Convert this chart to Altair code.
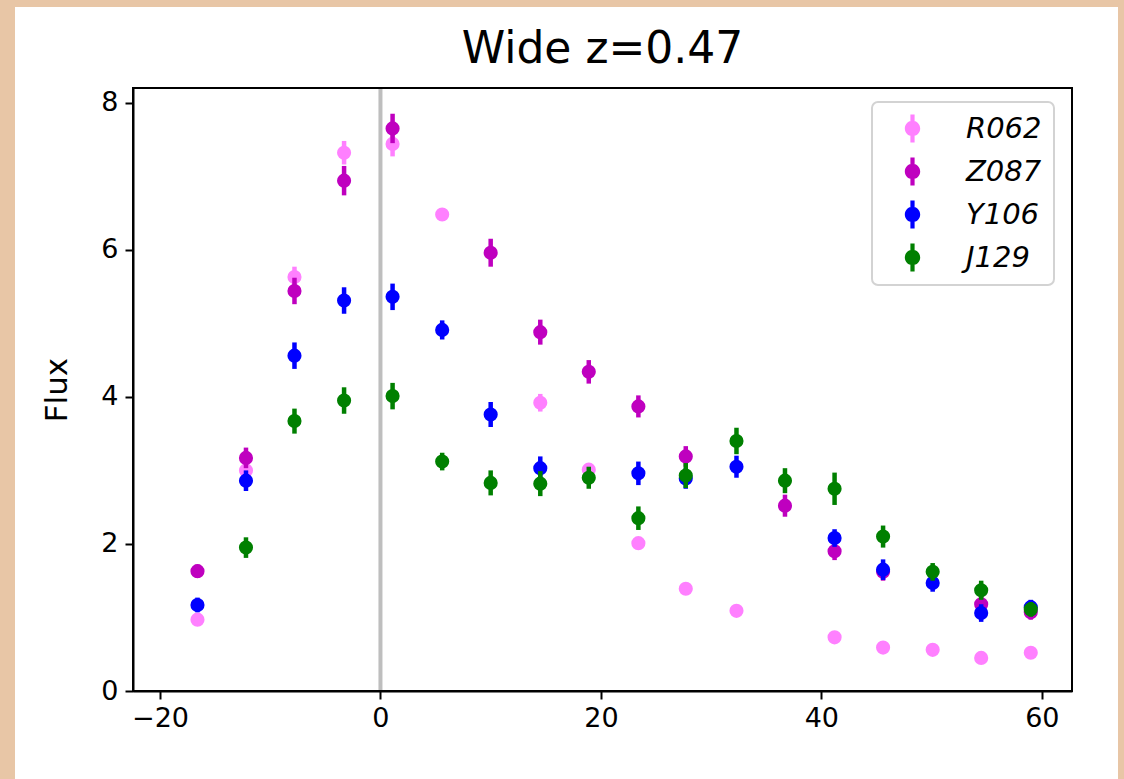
import altair as alt
import pandas as pd

# ---- data ----
phase = [-16.6, -12.2, -7.8, -3.3, 1.1, 5.6, 10.0, 14.5, 18.9, 23.4,
         27.7, 32.3, 36.7, 41.2, 45.6, 50.1, 54.5, 59.0]
bands = ["R062", "Z087", "Y106", "J129"]
band_colors = ["#FF80FF", "#BF00BF", "#0000FF", "#008000"]

flux_R062 = [0.97, 3.00, 5.63, 7.32, 7.44, 6.48, None, 3.92, 3.01, 2.01,
             1.39, 1.09, None, 0.73, 0.59, 0.56, 0.45, 0.52]
err_R062 = [0.06, 0.10, 0.14, 0.16, 0.17, 0.08, None, 0.12, 0.08, 0.06,
            0.05, 0.04, None, 0.04, 0.04, 0.04, 0.04, 0.04]

flux_Z087 = [1.63, 3.17, 5.44, 6.94, 7.65, None, 5.96, 4.88, 4.34, 3.87,
             3.19, None, 2.52, 1.90, 1.62, None, 1.18, 1.07]
err_Z087 = [0.09, 0.14, 0.18, 0.20, 0.20, None, 0.19, 0.17, 0.16, 0.15,
            0.14, None, 0.15, 0.12, 0.12, None, 0.12, 0.10]

flux_Y106 = [1.17, 2.86, 4.56, 5.31, 5.36, 4.91, 3.76, 3.03, None, 2.96,
             2.89, 3.05, None, 2.08, 1.65, 1.47, 1.06, 1.14]
err_Y106 = [0.10, 0.14, 0.18, 0.18, 0.18, 0.13, 0.17, 0.16, None, 0.16,
            0.14, 0.15, None, 0.12, 0.14, 0.12, 0.12, 0.10]

flux_J129 = [None, 1.95, 3.67, 3.95, 4.01, 3.12, 2.83, 2.82, 2.90, 2.35,
             2.93, 3.40, 2.86, 2.75, 2.10, 1.62, 1.37, 1.11]
err_J129 = [None, 0.14, 0.17, 0.18, 0.18, 0.12, 0.17, 0.17, 0.15, 0.16,
            0.17, 0.18, 0.17, 0.22, 0.15, 0.12, 0.13, 0.10]

x_ticks = [-20, 0, 20, 40, 60]
y_ticks = [0, 2, 4, 6, 8]

flux = {"R062": flux_R062, "Z087": flux_Z087, "Y106": flux_Y106, "J129": flux_J129}
errs = {"R062": err_R062, "Z087": err_Z087, "Y106": err_Y106, "J129": err_J129}

rows = []
for b in bands:
    for p, f, e in zip(phase, flux[b], errs[b]):
        if f is None:
            continue
        rows.append({"band": b, "phase": p, "flux": f, "lo": f - e, "hi": f + e})
df = pd.DataFrame(rows)

FONT = "DejaVu Sans"
xscale = alt.Scale(domain=[-22.45, 62.74], nice=False, zero=False)
yscale = alt.Scale(domain=[0, 8.2], nice=False, zero=False)
xaxis = alt.Axis(values=x_ticks, title=None, labelPadding=6, zindex=2)
yaxis = alt.Axis(values=y_ticks, title="Flux", titlePadding=27, zindex=2)

# errorbar-like legend symbol: vertical bar + dot
sym = ("M-0.15,-1H0.15V1H-0.15Z "
       "M0.55,0A0.55,0.55,0,1,1,-0.55,0A0.55,0.55,0,1,1,0.55,0Z")

legend = alt.Legend(
    title=None, orient="none", legendX=739, legendY=14,
    symbolType=sym, symbolSize=784, symbolStrokeWidth=0, symbolOpacity=1,
    symbolOffset=14, labelOffset=39, padding=12, rowPadding=13,
    labelFont=FONT, labelFontSize=29, labelFontStyle="italic", labelColor="black",
    fillColor="white", strokeColor="#D3D3D3", cornerRadius=6, zindex=3,
)
color_enc = alt.Color("band:N", scale=alt.Scale(domain=bands, range=band_colors), legend=legend)

# white page panel behind the figure
bg = alt.Chart(pd.DataFrame({"z": [0]})).mark_rect(color="white").encode(
    x=alt.value(-118), x2=alt.value(985), y=alt.value(-81), y2=alt.value(691)
)
# full box frame around the plot area
frame = alt.Chart(pd.DataFrame({"z": [0]})).mark_rect(
    filled=False, stroke="black", strokeWidth=2
).encode(x=alt.value(0), x2=alt.value("width"), y=alt.value(0), y2=alt.value("height"))

vline = alt.Chart(pd.DataFrame({"phase": [0]})).mark_rule(
    color="#BEBEBE", strokeWidth=4
).encode(x=alt.X("phase:Q", scale=xscale, axis=xaxis))

layers = [bg, vline]
base = alt.Chart(df)
for b, c in zip(bands, band_colors):
    sub = base.transform_filter(alt.datum.band == b)
    bars = sub.mark_rule(strokeWidth=4.5, color=c).encode(
        x=alt.X("phase:Q", scale=xscale, axis=xaxis),
        y=alt.Y("lo:Q", scale=yscale, axis=yaxis),
        y2="hi:Q",
    )
    dots = sub.mark_circle(size=200, opacity=1).encode(
        x=alt.X("phase:Q", scale=xscale, axis=xaxis),
        y=alt.Y("flux:Q", scale=yscale, axis=yaxis),
        color=color_enc,
    )
    layers += [bars, dots]
layers.append(frame)

chart = alt.layer(*layers).properties(
    width=939, height=603,
    title=alt.TitleParams("Wide z=0.47", font=FONT, fontSize=44, fontWeight="normal",
                          color="black", anchor="middle", offset=18, dy=83, zindex=3),
    background="#E8C6A6",
    autosize=alt.AutoSizeParams(type="none"),
    padding={"left": 133, "top": 88, "right": 52, "bottom": 88},
).configure_axis(
    labelFont=FONT, labelFontSize=27, labelColor="black",
    titleFont=FONT, titleFontSize=31, titleColor="black", titleFontWeight="normal",
    tickColor="black", tickWidth=2, tickSize=8,
    domainColor="black", domainWidth=2, grid=False, labelPadding=7,
).configure_view(stroke=None).configure_legend(strokeWidth=2)

chart.save("out.html", embed_options={"renderer": "svg", "actions": False})
